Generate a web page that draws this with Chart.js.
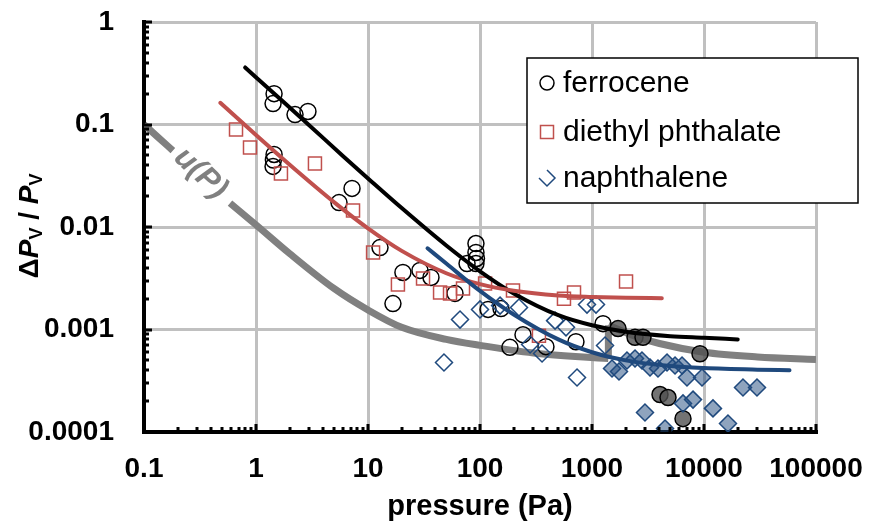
<!DOCTYPE html>
<html>
<head>
<meta charset="utf-8">
<script src="https://cdn.jsdelivr.net/npm/chart.js@4.4.1/dist/chart.umd.min.js"></script>
<style>
  html, body { margin: 0; padding: 0; background: #fff; }
</style>
</head>
<body>
<canvas id="plot" width="869" height="522"></canvas>
<script>
const FONT = "'Liberation Sans', Arial, sans-serif";

// ferrocene (open = low pressure, grey filled = high pressure)
const ferroOpenP = [1.45, 1.42, 1.45, 1.43, 1.42, 2.23, 2.91, 5.51, 7.2, 12.8, 16.7, 20.5, 29.1, 36.5, 59.8, 76.6, 92, 92, 93, 92, 118, 154, 185, 242, 388, 719, 1254];
const ferroOpenV = [0.2, 0.16, 0.051, 0.045, 0.039, 0.125, 0.134, 0.0173, 0.0238, 0.0063, 0.00179, 0.0036, 0.00377, 0.00322, 0.00225, 0.0044, 0.0069, 0.00564, 0.00493, 0.0044, 0.00157, 0.0016, 0.00067, 0.00089, 0.00068, 0.00076, 0.00114];
const ferroFillP = [1708, 2421, 2853, 9206, 4047, 4772, 6494];
const ferroFillV = [0.00102, 0.00084, 0.00084, 0.00058, 0.000232, 0.000217, 0.000135];

// diethyl phthalate
const dephP = [0.663, 0.884, 1.67, 3.36, 7.35, 11.1, 18.5, 31, 44, 54, 70.5, 111, 197, 336, 562, 691, 2013];
const dephV = [0.0894, 0.0597, 0.0333, 0.0417, 0.0145, 0.00564, 0.00275, 0.00315, 0.0023, 0.00225, 0.00251, 0.00281, 0.0024, 0.00087, 0.002, 0.0023, 0.00294];

// naphthalene (open / filled)
const naphOpenP = [47.7, 66.3, 100, 151, 223, 280, 358, 468, 586, 735, 902, 1086, 1307];
const naphOpenV = [0.000477, 0.00125, 0.00157, 0.00171, 0.00164, 0.000714, 0.000583, 0.00122, 0.00105, 0.00034, 0.00175, 0.00175, 0.000698];
const naphFillP = [1509, 1742, 2053, 2421, 2794, 3296, 3884, 4674, 5511, 6366, 7050, 9600, 6494, 7980, 2972, 4487, 12030, 16370, 22290, 29730];
const naphFillV = [0.000417, 0.000389, 0.000499, 0.000521, 0.000499, 0.000426, 0.000417, 0.000477, 0.000446, 0.000446, 0.00034, 0.00034, 0.00019, 0.000207, 0.000155, 0.000108, 0.00017, 0.000121, 0.000272, 0.000272];

// fitted curves
const ferroFitP = [0.8, 1.5, 3, 6, 10, 20, 50, 100, 200, 500, 1000, 2000, 5000, 10000, 20000];
const ferroFitV = [0.36, 0.194, 0.098, 0.049, 0.0298, 0.0153, 0.0066, 0.0037, 0.00225, 0.00138, 0.0011, 0.00095, 0.00086, 0.00083, 0.0008];
const dephFitP = [0.48, 1, 2, 5, 10, 20, 50, 100, 200, 500, 1000, 2000, 4200];
const dephFitV = [0.163, 0.079, 0.0405, 0.0174, 0.0097, 0.00585, 0.00354, 0.00277, 0.00239, 0.00215, 0.00208, 0.00204, 0.00202];
const naphFitP = [34, 50, 100, 200, 500, 1000, 2000, 5000, 10000, 30000, 58000];
const naphFitV = [0.0062, 0.0044, 0.00238, 0.0014, 0.0008, 0.0006, 0.0005, 0.00044, 0.00042, 0.000405, 0.0004];

// u(P) uncertainty curve (gap where the label sits, step near 1.4 kPa)
const uAP = [0.1, 0.13, 0.181];
const uAV = [0.1, 0.077, 0.0557];
const uBP = [0.586, 1, 2, 5, 10, 20, 50, 100, 300, 1400];
const uBV = [0.0171, 0.0105, 0.0055, 0.0025, 0.00155, 0.00105, 0.0008, 0.0007, 0.00059, 0.00052];
const uStepP = [1400, 1400];
const uStepV = [0.00052, 0.0011];
const uCP = [1400, 2500, 4000, 10000, 30000, 100000];
const uCV = [0.0011, 0.00085, 0.00073, 0.0006, 0.00054, 0.00051];
const uLabelAt = { x: 0.32, y: 0.0333 };

const pts = (xs, ys) => xs.map((x, i) => ({ x: x, y: ys[i] }));
const isDecade = (v) => Math.abs(Math.log10(v) - Math.round(Math.log10(v))) < 1e-6;

const RED = '#C0504D';
const BLUE = '#1F497D';
const GREY = '#808080';

function curve(data, color, width, order) {
  return {
    data: data, showLine: true, pointRadius: 0, pointHoverRadius: 0,
    borderColor: color, borderWidth: width, cubicInterpolationMode: 'monotone',
    borderCapStyle: 'round', order: order
  };
}

const datasets = [
  Object.assign(curve(pts(uAP, uAV), GREY, 7, 10), { borderCapStyle: 'butt' }),
  Object.assign(curve(pts(uBP, uBV), GREY, 7, 10), { borderCapStyle: 'butt' }),
  Object.assign(curve(pts(uStepP, uStepV), GREY, 7, 10), { borderCapStyle: 'butt' }),
  Object.assign(curve(pts(uCP, uCV), GREY, 7, 10), { borderCapStyle: 'butt' }),
  { label: 'naphthalene', data: pts(naphFillP, naphFillV), pointStyle: 'rectRot', pointRadius: 8.5,
    backgroundColor: 'rgba(31,73,125,0.5)', borderColor: BLUE, borderWidth: 1.5, order: 5 },
  { label: 'naphthalene', data: pts(naphOpenP, naphOpenV), pointStyle: 'rectRot', pointRadius: 8.5,
    backgroundColor: 'rgba(255,255,255,0)', borderColor: BLUE, borderWidth: 1.5, order: 5 },
  { label: 'diethyl phthalate', data: pts(dephP, dephV), pointStyle: 'rect', pointRadius: 9.2,
    backgroundColor: 'rgba(255,255,255,0)', borderColor: RED, borderWidth: 1.5, order: 5 },
  { label: 'ferrocene', data: pts(ferroFillP, ferroFillV), pointStyle: 'circle', pointRadius: 8,
    backgroundColor: 'rgba(80,80,80,0.8)', borderColor: '#000', borderWidth: 1.5, order: 5 },
  { label: 'ferrocene', data: pts(ferroOpenP, ferroOpenV), pointStyle: 'circle', pointRadius: 8,
    backgroundColor: 'rgba(255,255,255,0)', borderColor: '#000', borderWidth: 1.5, order: 5 },
  curve(pts(naphFitP, naphFitV), BLUE, 4, 1),
  curve(pts(dephFitP, dephFitV), RED, 4, 1),
  curve(pts(ferroFitP, ferroFitV), '#000', 4, 1)
];

const legendItems = [
  { text: 'ferrocene', style: 'circle', color: '#000' },
  { text: 'diethyl phthalate', style: 'rect', color: RED },
  { text: 'naphthalene', style: 'diamond', color: BLUE }
];

const decor = {
  id: 'decor',
  afterDatasetsDraw(chart) {
    const { ctx, scales: { x, y } } = chart;
    // u(P) label on the grey curve
    ctx.save();
    ctx.translate(x.getPixelForValue(uLabelAt.x), y.getPixelForValue(uLabelAt.y));
    ctx.rotate(43 * Math.PI / 180);
    ctx.fillStyle = GREY;
    ctx.font = 'italic bold 31px ' + FONT;
    ctx.textAlign = 'center';
    ctx.textBaseline = 'middle';
    ctx.fillText('u(P)', 0, 0);
    ctx.restore();
  },
  afterDraw(chart) {
    const { ctx, chartArea: a, scales: { x, y } } = chart;
    ctx.save();
    ctx.fillStyle = '#000';
    // inward tick marks
    for (let e = -1; e <= 5; e++) {
      for (let k = 1; k <= 9; k++) {
        if (e === 5 && k > 1) break;
        const px = Math.round(x.getPixelForValue(k * Math.pow(10, e)));
        const len = k === 1 ? 8 : 5;
        ctx.fillRect(px - 1.5, a.bottom - len, 3, len);
      }
    }
    for (let e = -4; e <= 0; e++) {
      for (let k = 1; k <= 9; k++) {
        if (e === 0 && k > 1) break;
        const py = Math.round(y.getPixelForValue(k * Math.pow(10, e)));
        const len = k === 1 ? 8 : 5;
        ctx.fillRect(a.left, py - 1.5, len, 3);
      }
    }

    // x title
    ctx.font = 'bold 29px ' + FONT;
    ctx.textAlign = 'center';
    ctx.textBaseline = 'middle';
    ctx.fillText('pressure (Pa)', (a.left + a.right) / 2, 507);

    // y title with subscripts
    const parts = [
      { t: '\u0394', f: 'bold 28px ' + FONT, dy: 0 },
      { t: 'P', f: 'italic bold 28px ' + FONT, dy: 0 },
      { t: 'V', f: 'bold 18px ' + FONT, dy: 7 },
      { t: ' / ', f: 'bold 28px ' + FONT, dy: 0 },
      { t: 'P', f: 'italic bold 28px ' + FONT, dy: 0 },
      { t: 'V', f: 'bold 18px ' + FONT, dy: 7 }
    ];
    let total = 0;
    parts.forEach((p) => { ctx.font = p.f; p.w = ctx.measureText(p.t).width; total += p.w; });
    ctx.save();
    ctx.translate(30, 226);
    ctx.rotate(-Math.PI / 2);
    ctx.textAlign = 'left';
    let cx = -total / 2;
    parts.forEach((p) => { ctx.font = p.f; ctx.fillText(p.t, cx, p.dy); cx += p.w; });
    ctx.restore();

    // legend
    ctx.fillStyle = '#fff';
    ctx.fillRect(527, 58, 331, 145);
    ctx.strokeStyle = '#000';
    ctx.lineWidth = 1.5;
    ctx.strokeRect(527, 58, 331, 145);
    const rows = [83, 132, 178];
    legendItems.forEach((it, i) => {
      const mx = 547, my = rows[i];
      ctx.strokeStyle = it.color;
      ctx.lineWidth = 1.5;
      ctx.beginPath();
      if (it.style === 'circle') {
        ctx.arc(mx, my, 7, 0, Math.PI * 2);
      } else if (it.style === 'rect') {
        ctx.rect(mx - 6.5, my - 6.5, 13, 13);
      } else {
        ctx.moveTo(mx - 8, my);
        ctx.lineTo(mx, my + 8);
        ctx.lineTo(mx + 8, my);
        ctx.lineTo(mx, my - 8);
      }
      ctx.stroke();
      ctx.fillStyle = '#000';
      ctx.font = '30px ' + FONT;
      ctx.textAlign = 'left';
      ctx.textBaseline = 'middle';
      ctx.fillText(it.text, 563, my + 1);
    });
    ctx.restore();
  }
};

const gridColor = (c) => (c.tick && isDecade(c.tick.value) ? '#C0C0C0' : 'rgba(0,0,0,0)');
const tickFont = { family: FONT, size: 28, weight: 'bold' };

new Chart(document.getElementById('plot'), {
  type: 'scatter',
  data: { datasets: datasets },
  options: {
    responsive: false,
    animation: false,
    events: [],
    layout: { padding: { top: 22, right: 53, left: 0, bottom: 0 } },
    plugins: { legend: { display: false }, tooltip: { enabled: false } },
    scales: {
      x: {
        type: 'logarithmic', min: 0.1, max: 100000, position: 'bottom',
        border: { color: '#000', width: 4 },
        grid: { color: gridColor, lineWidth: 3, drawTicks: false },
        ticks: {
          autoSkip: false, maxRotation: 0, minRotation: 0, padding: 20, color: '#000', font: tickFont,
          callback: (v) => (isDecade(v) ? String(v) : '')
        },
        afterFit(s) { s.height = 90; s.paddingLeft = 0; s.paddingRight = 0; }
      },
      y: {
        type: 'logarithmic', min: 0.0001, max: 1, position: 'left',
        border: { color: '#000', width: 4 },
        grid: { color: gridColor, lineWidth: 3, drawTicks: false },
        ticks: {
          autoSkip: false, padding: 30, color: '#000', font: tickFont,
          callback: (v) => (isDecade(v) ? String(v) : '')
        },
        afterFit(s) { s.width = 144; s.paddingTop = 0; s.paddingBottom = 0; }
      }
    }
  },
  plugins: [decor]
});
</script>
</body>
</html>
